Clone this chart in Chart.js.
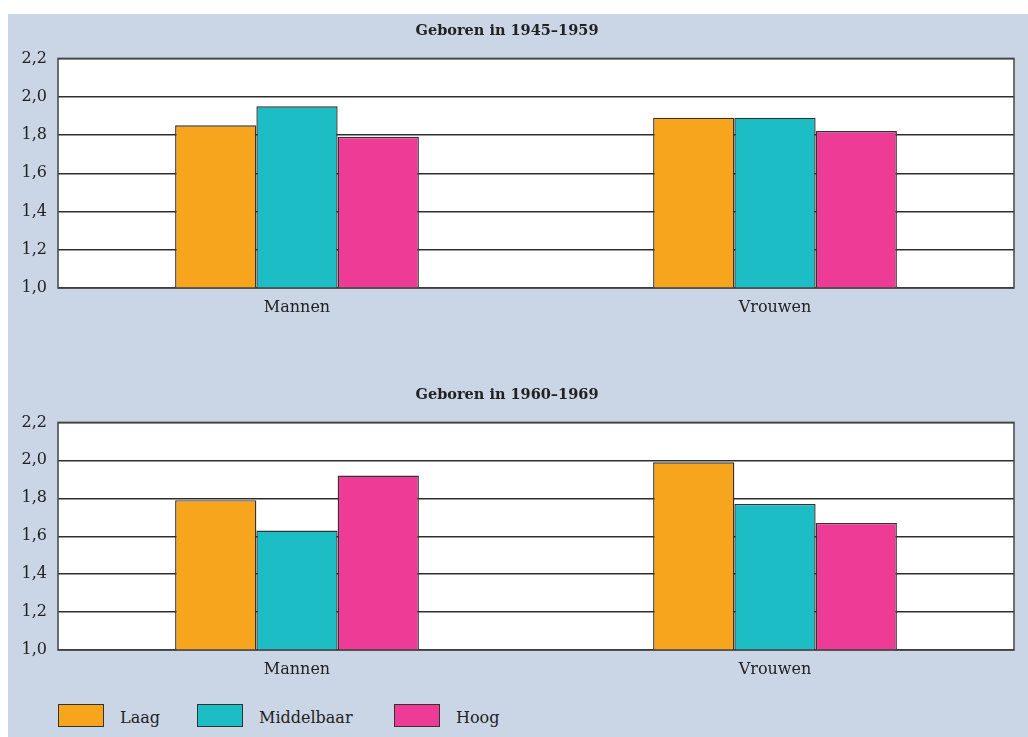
<!DOCTYPE html>
<html>
<head>
<meta charset="utf-8">
<script src="https://cdn.jsdelivr.net/npm/chart.js@4/dist/chart.umd.min.js"></script>
<style>
  html, body { margin: 0; padding: 0; background: #ffffff; width: 1028px; height: 737px; overflow: hidden; }
  #panel { position: absolute; left: 8px; top: 14px; width: 1020px; height: 723px; background: #cad5e5; }
  canvas { position: absolute; left: 0; }
  #c1 { top: 14px; }
  #c2 { top: 378px; }
  #legend { position: absolute; left: 0; top: 703px; height: 24px; font-family: "DejaVu Serif", serif; font-size: 16px; color: #222; }
  .item { position: absolute; top: 0; display: flex; align-items: center; height: 24px; }
  .box { width: 46px; height: 23px; border: 1px solid #333; box-sizing: border-box; }
  .lbl { margin-left: 16px; position: relative; top: 2px; }
</style>
</head>
<body>
<div id="panel"></div>
<canvas id="c1" width="1028" height="320"></canvas>
<canvas id="c2" width="1028" height="318"></canvas>
<div id="legend"></div>
<script>
const categories = ["Mannen", "Vrouwen"];
const seriesNames = ["Laag", "Middelbaar", "Hoog"];
const titles = ["Geboren in 1945\u20131959", "Geboren in 1960\u20131969"];
// cohort 1945–1959
const laag1 = [1.85, 1.89];
const middelbaar1 = [1.95, 1.89];
const hoog1 = [1.79, 1.82];
// cohort 1960–1969
const laag2 = [1.79, 1.99];
const middelbaar2 = [1.63, 1.77];
const hoog2 = [1.92, 1.67];
const yTicks = [1.0, 1.2, 1.4, 1.6, 1.8, 2.0, 2.2];

const colors = ["#f7a51c", "#1dbdc6", "#ee3b95"];
const fontFam = "'DejaVu Serif', serif";

const areaPlugin = {
  id: 'areaPlugin',
  beforeDraw(chart) {
    const a = chart.chartArea, ctx = chart.ctx;
    ctx.save();
    ctx.fillStyle = '#ffffff';
    ctx.fillRect(a.left, a.top, a.right - a.left, a.bottom - a.top);
    ctx.restore();
  },
  afterDraw(chart) {
    const a = chart.chartArea, ctx = chart.ctx;
    ctx.save();
    ctx.strokeStyle = '#444';
    ctx.lineWidth = 1.5;
    ctx.strokeRect(a.left, a.top, a.right - a.left, a.bottom - a.top);
    ctx.restore();
  }
};

function makeChart(id, title, sets) {
  return new Chart(document.getElementById(id), {
    type: 'bar',
    data: {
      labels: categories,
      datasets: sets.map((d, i) => ({
        label: seriesNames[i],
        data: d,
        backgroundColor: colors[i],
        borderColor: '#333',
        borderWidth: 1.4,
        borderSkipped: false,
        categoryPercentage: 0.51,
        barPercentage: 1.0
      }))
    },
    options: {
      responsive: false,
      animation: false,
      layout: { padding: { left: 0, right: 14, top: 0, bottom: 0 } },
      plugins: {
        legend: { display: false },
        tooltip: { enabled: false },
        title: {
          display: true,
          text: title,
          color: '#222',
          font: { family: fontFam, size: 14.5, weight: 'bold' },
          padding: { top: 9, bottom: 18 }
        }
      },
      scales: {
        x: {
          grid: { display: false, drawTicks: false },
          border: { display: false },
          ticks: { color: '#222', font: { family: fontFam, size: 16 }, padding: 10 },
          afterFit(s) { s.height = 46; }
        },
        y: {
          min: 1.0, max: 2.2,
          afterBuildTicks(s) { s.ticks = yTicks.map(v => ({ value: v })); },
          grid: { color: '#2e2e2e', lineWidth: 1.4, drawTicks: false },
          border: { display: false },
          ticks: {
            color: '#222',
            font: { family: fontFam, size: 16 },
            padding: 11,
            callback: v => v.toFixed(1).replace('.', ',')
          },
          afterFit(s) { s.width = 58; }
        }
      }
    },
    plugins: [areaPlugin]
  });
}

makeChart('c1', titles[0], [laag1, middelbaar1, hoog1]);
makeChart('c2', titles[1], [laag2, middelbaar2, hoog2]);

const legendX = [58, 197, 394];
const leg = document.getElementById('legend');
seriesNames.forEach((n, i) => {
  const it = document.createElement('div');
  it.className = 'item';
  it.style.left = legendX[i] + 'px';
  const b = document.createElement('div');
  b.className = 'box';
  b.style.background = colors[i];
  const t = document.createElement('span');
  t.className = 'lbl';
  t.textContent = n;
  it.appendChild(b); it.appendChild(t);
  leg.appendChild(it);
});
</script>
</body>
</html>
